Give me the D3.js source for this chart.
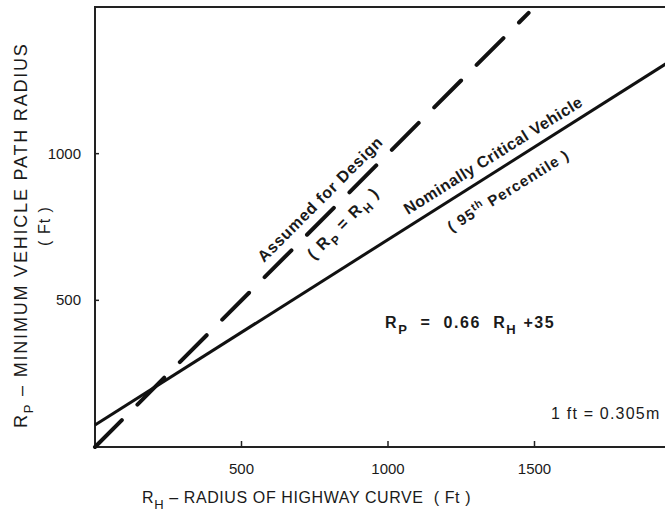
<!DOCTYPE html>
<head>
    <meta charset="utf-8">
    <title>Vehicle path radius vs highway curve radius</title>
    <script src="https://cdn.jsdelivr.net/npm/d3@7"></script>
    <style>
        body { margin: 0; background: #fff; }
        text { font-family: "Liberation Sans", Arial, sans-serif; fill: #1a1a1a; white-space: pre; }
    </style>
</head>
<body>
<div id="container"></div>
<script>

    // Values (feet)
    const xTicks = [500, 1000, 1500];
    const yTicks = [500, 1000];
    const designLine = [[0, 0], [1480, 1480]];      // Rp = Rh, dashed
    const criticalLine = [[0, 75], [1970, 1320]];   // nominally critical vehicle

    const width = 665;
    const height = 512;

    const svg = d3.select("#container")
        .append("svg")
        .attr("width", width)
        .attr("height", height);

    const x = d3.scaleLinear().domain([0, 2000]).range([95, 681]);
    const y = d3.scaleLinear().domain([0, 1500]).range([447, 7]);

    // frame: left axis, top border, bottom axis
    svg.append("path")
        .attr("d", `M${width},${y(1500)} H${x(0)} V${y(0)} H${width}`)
        .attr("fill", "none")
        .attr("stroke", "#222")
        .attr("stroke-width", 2);

    // ticks point inward
    svg.selectAll(".xtick")
        .data(xTicks)
        .enter()
        .append("line")
        .attr("x1", d => x(d))
        .attr("x2", d => x(d))
        .attr("y1", y(0))
        .attr("y2", y(0) - 6)
        .attr("stroke", "#222")
        .attr("stroke-width", 1.5);

    svg.selectAll(".ytick")
        .data(yTicks)
        .enter()
        .append("line")
        .attr("x1", x(0))
        .attr("x2", x(0) + 4)
        .attr("y1", d => y(d))
        .attr("y2", d => y(d))
        .attr("stroke", "#222")
        .attr("stroke-width", 1.5);

    svg.selectAll(".xlabel")
        .data(xTicks)
        .enter()
        .append("text")
        .attr("x", d => x(d))
        .attr("y", 474)
        .attr("text-anchor", "middle")
        .attr("font-size", 15)
        .text(d => d);

    svg.selectAll(".ylabel")
        .data(yTicks)
        .enter()
        .append("text")
        .attr("x", 81)
        .attr("y", d => y(d) + 5)
        .attr("text-anchor", "end")
        .attr("font-size", 15)
        .text(d => d);

    // lines
    const line = d3.line().x(d => x(d[0])).y(d => y(d[1]));

    svg.append("path")
        .datum(designLine)
        .attr("d", line)
        .attr("fill", "none")
        .attr("stroke", "#111")
        .attr("stroke-width", 4)
        .attr("stroke-linecap", "round")
        .attr("stroke-dasharray", "38,22");

    svg.append("path")
        .datum(criticalLine)
        .attr("d", line)
        .attr("fill", "none")
        .attr("stroke", "#111")
        .attr("stroke-width", 3);

    // helper for text with subscripts: parts = [[text, isSub], ...]
    function richText(g, parts, size, sub) {
        const t = g.append("text").attr("font-size", size);
        let down = false;
        parts.forEach(p => {
            const s = t.append("tspan").text(p[0]);
            if (p[1] && !down) { s.attr("dy", size * 0.35).attr("font-size", sub); down = true; }
            else if (p[1]) { s.attr("font-size", sub); }
            else if (down) { s.attr("dy", -size * 0.35); down = false; }
        });
        return t;
    }

    // axis titles
    const yTitle = svg.append("g").attr("transform", "translate(27,428) rotate(-90)");
    richText(yTitle, [["R", false], ["P", true], [" – MINIMUM VEHICLE PATH RADIUS", false]], 18, 13)
        .attr("letter-spacing", 1.8);

    svg.append("text")
        .attr("transform", "translate(50,226) rotate(-90)")
        .attr("text-anchor", "middle")
        .attr("font-size", 16)
        .attr("letter-spacing", 1)
        .text("( Ft )");

    const xTitle = svg.append("g").attr("transform", "translate(142,503)");
    richText(xTitle, [["R", false], ["H", true], [" – RADIUS OF HIGHWAY CURVE  ( Ft )", false]], 16, 13)
        .attr("letter-spacing", 0.6);

    // curve labels
    const a1 = svg.append("g").attr("transform", "translate(324,203) rotate(-45)");
    a1.append("text")
        .attr("text-anchor", "middle")
        .attr("font-size", 16)
        .attr("font-weight", "bold")
        .attr("letter-spacing", 0.8)
        .text("Assumed for Design");

    const a2 = svg.append("g").attr("transform", "translate(347,227) rotate(-45)");
    richText(a2, [["( R", false], ["P", true], [" = R", false], ["H", true], [" )", false]], 16, 12)
        .attr("text-anchor", "middle")
        .attr("font-weight", "bold")
        .attr("letter-spacing", 1.5);

    const b1 = svg.append("g").attr("transform", "translate(496,160) rotate(-32)");
    b1.append("text")
        .attr("text-anchor", "middle")
        .attr("font-size", 16)
        .attr("font-weight", "bold")
        .attr("letter-spacing", 0.5)
        .text("Nominally Critical Vehicle");

    const b2 = svg.append("g").attr("transform", "translate(511,195) rotate(-32)");
    const t95 = b2.append("text")
        .attr("text-anchor", "middle")
        .attr("font-size", 15)
        .attr("font-weight", "bold")
        .attr("letter-spacing", 1);
    t95.append("tspan").text("( 95");
    t95.append("tspan").attr("dy", -6).attr("font-size", 11).text("th");
    t95.append("tspan").attr("dy", 6).text(" Percentile )");

    // equation and conversion note
    const eq = svg.append("g").attr("transform", "translate(385,328)");
    richText(eq, [["R", false], ["P", true], ["  =  0.66  R", false], ["H", true], [" +35", false]], 16, 13)
        .attr("font-weight", "bold")
        .attr("letter-spacing", 1.6);

    svg.append("text")
        .attr("x", 551)
        .attr("y", 419)
        .attr("font-size", 16)
        .attr("letter-spacing", 1.2)
        .text("1 ft = 0.305m");

</script>
</body>
